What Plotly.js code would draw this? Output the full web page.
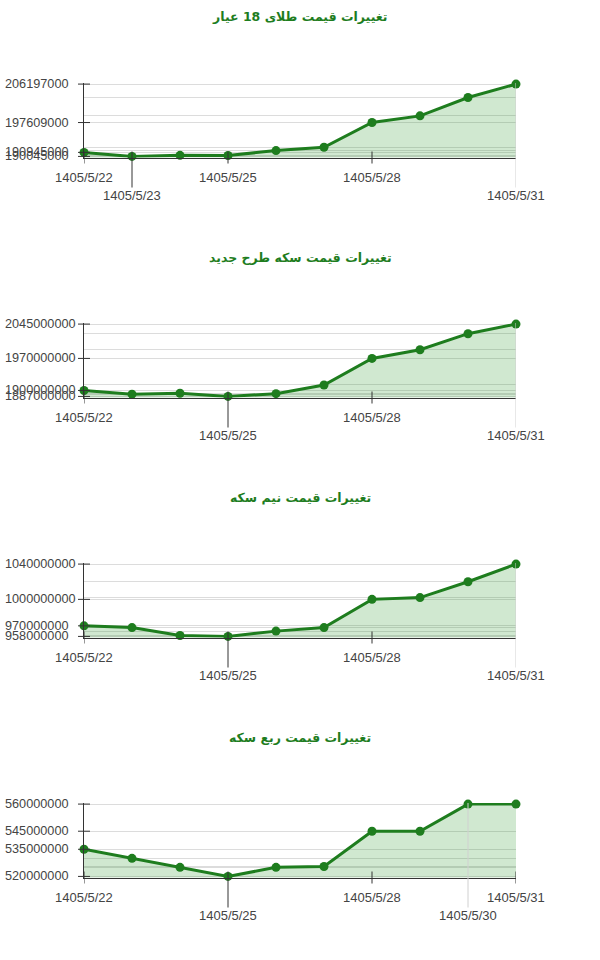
<!DOCTYPE html>
<html>
<head>
<meta charset="utf-8">
<script src="https://cdn.plot.ly/plotly-3.0.1.min.js"></script>
<style>
  html, body { margin: 0; padding: 0; background: #fff; }
  #chart { width: 600px; height: 960px; }
</style>
</head>
<body>
<div id="chart"></div>
<script>
// dates shared by all four panels
const dates = ['1405/5/22', '1405/5/23', '1405/5/24', '1405/5/25', '1405/5/26',
               '1405/5/27', '1405/5/28', '1405/5/29', '1405/5/30', '1405/5/31'];

// panel 1 - 18k gold
const goldTitle = 'تغییرات قیمت طلای 18 عیار';
const goldValues = [190945000, 190045000, 190280000, 190250000, 191350000,
                    192100000, 197609000, 199100000, 203200000, 206197000];
const goldLabels = [206197000, 197609000, 190945000, 190045000];
const goldRow1 = ['1405/5/22', '1405/5/25', '1405/5/28'];
const goldRow2 = ['1405/5/23', '1405/5/31'];

// panel 2 - new design coin
const coinTitle = 'تغییرات قیمت سکه طرح جدید';
const coinValues = [1900000000, 1892000000, 1894000000, 1887000000, 1893000000,
                    1912000000, 1970000000, 1989000000, 2024000000, 2045000000];
const coinLabels = [2045000000, 1970000000, 1900000000, 1887000000];
const coinRow1 = ['1405/5/22', '1405/5/28'];
const coinRow2 = ['1405/5/25', '1405/5/31'];

// panel 3 - half coin
const halfTitle = 'تغییرات قیمت نیم سکه';
const halfValues = [970000000, 968000000, 959000000, 958000000, 964000000,
                    968000000, 1000000000, 1002000000, 1020000000, 1040000000];
const halfLabels = [1040000000, 1000000000, 970000000, 958000000];
const halfRow1 = ['1405/5/22', '1405/5/28'];
const halfRow2 = ['1405/5/25', '1405/5/31'];

// panel 4 - quarter coin
const quarterTitle = 'تغییرات قیمت ربع سکه';
const quarterValues = [535000000, 530000000, 525000000, 520000000, 525000000,
                       525500000, 545000000, 545000000, 560000000, 560000000];
const quarterLabels = [560000000, 545000000, 535000000, 520000000];
const quarterRow1 = ['1405/5/22', '1405/5/28', '1405/5/31'];
const quarterRow2 = ['1405/5/25', '1405/5/30'];

const W = 600, H = 960, BLOCK = 240;
const PLOT_TOP = 83, PLOT_BOTTOM = 157.5, PLOT_LEFT = 84, PLOT_RIGHT = 516;
const GREEN = '#1e7d1e';
const TEXT_CLR = '#444';
const FONT = 'Liberation Sans, Arial, sans-serif';

const traces = [];
const shapes = [];
const annotations = [];
const layout = {
    width: W, height: H,
    margin: {l: 0, r: 0, t: 0, b: 0},
    paper_bgcolor: '#fff', plot_bgcolor: '#fff',
    showlegend: false,
    font: {family: FONT, size: 13, color: TEXT_CLR},
};

function addPanel(k, title, values, labels, row1, row2) {
    const sfx = k === 1 ? '' : String(k);
    const xName = 'x' + sfx, yName = 'y' + sfx;
    const top = (k - 1) * BLOCK + PLOT_TOP;
    const bottom = (k - 1) * BLOCK + PLOT_BOTTOM;
    const d0 = 1 - bottom / H, d1 = 1 - top / H;
    const plotPx = bottom - top;

    const lo = Math.min(...values), hi = Math.max(...values);
    const pad = (hi - lo) * 0.015;
    const gridVals = Array.from(new Set(values)).sort((a, b) => b - a);

    traces.push({
        x: dates, y: values,
        xaxis: xName, yaxis: yName,
        type: 'scatter', mode: 'lines+markers',
        line: {color: GREEN, width: 3},
        marker: {color: GREEN, size: 9},
        fill: 'tozeroy', fillcolor: 'rgba(40,150,40,0.22)',
        cliponaxis: false,
        hoverinfo: 'skip',
    });

    layout['xaxis' + sfx] = {
        domain: [PLOT_LEFT / W, PLOT_RIGHT / W],
        anchor: yName,
        type: 'category',
        categoryarray: dates,
        range: [0, dates.length - 1],
        showgrid: false, zeroline: false,
        showline: true, linecolor: '#333', linewidth: 1,
        ticks: '', showticklabels: false,
        fixedrange: true,
    };
    layout['yaxis' + sfx] = {
        domain: [d0, d1],
        anchor: xName,
        range: [lo - pad, hi + pad],
        tickvals: gridVals,
        showticklabels: false,
        showgrid: true, gridcolor: '#dcdcdc', gridwidth: 1,
        zeroline: false,
        showline: true, linecolor: '#333', linewidth: 1,
        ticks: '',
        fixedrange: true,
    };

    // short ticks crossing the y axis, with left-aligned value labels
    labels.forEach(v => {
        shapes.push({
            type: 'line', xref: 'paper', yref: yName,
            xsizemode: 'pixel', xanchor: PLOT_LEFT / W, x0: -6, x1: 6,
            y0: v, y1: v,
            line: {color: '#333', width: 1},
        });
        annotations.push({
            text: String(v), xref: 'paper', x: 3 / W, xanchor: 'left',
            yref: yName, y: v, yanchor: 'middle',
            showarrow: false, font: {family: FONT, size: 12.7, color: TEXT_CLR},
        });
    });

    // x ticks and the two rows of date labels
    const lastRow2 = row2[row2.length - 1];
    row1.forEach(d => {
        const i = dates.indexOf(d);
        shapes.push({
            type: 'line', xref: xName, yref: 'paper',
            ysizemode: 'pixel', yanchor: d0, y0: 6, y1: -6,
            x0: i, x1: i, line: {color: '#333', width: 1},
        });
        annotations.push({
            text: d, xref: xName, x: i, yref: 'paper', y: d0, yshift: -20,
            yanchor: 'middle',
            showarrow: false, font: {family: FONT, size: 13, color: TEXT_CLR},
        });
    });
    row2.forEach(d => {
        const i = dates.indexOf(d);
        const light = d === lastRow2;
        shapes.push({
            type: 'line', xref: xName, yref: 'paper',
            ysizemode: 'pixel', yanchor: d0,
            y0: light ? plotPx : 6, y1: -30,
            x0: i, x1: i,
            line: {color: light ? '#d0d0d0' : '#333', width: 1},
        });
        annotations.push({
            text: d, xref: xName, x: i, yref: 'paper', y: d0, yshift: -38,
            yanchor: 'middle',
            showarrow: false, font: {family: FONT, size: 13, color: TEXT_CLR},
        });
    });

    // panel title
    annotations.push({
        text: '<b>' + title + '</b>',
        xref: 'paper', x: 0.5, yref: 'paper', y: 1 - ((k - 1) * BLOCK + 17) / H,
        yanchor: 'middle', showarrow: false,
        font: {family: 'DejaVu Sans, sans-serif', size: 12.5, color: GREEN},
    });
}

addPanel(1, goldTitle, goldValues, goldLabels, goldRow1, goldRow2);
addPanel(2, coinTitle, coinValues, coinLabels, coinRow1, coinRow2);
addPanel(3, halfTitle, halfValues, halfLabels, halfRow1, halfRow2);
addPanel(4, quarterTitle, quarterValues, quarterLabels, quarterRow1, quarterRow2);

layout.shapes = shapes;
layout.annotations = annotations;

Plotly.newPlot('chart', traces, layout, {staticPlot: true, displayModeBar: false});
</script>
</body>
</html>
